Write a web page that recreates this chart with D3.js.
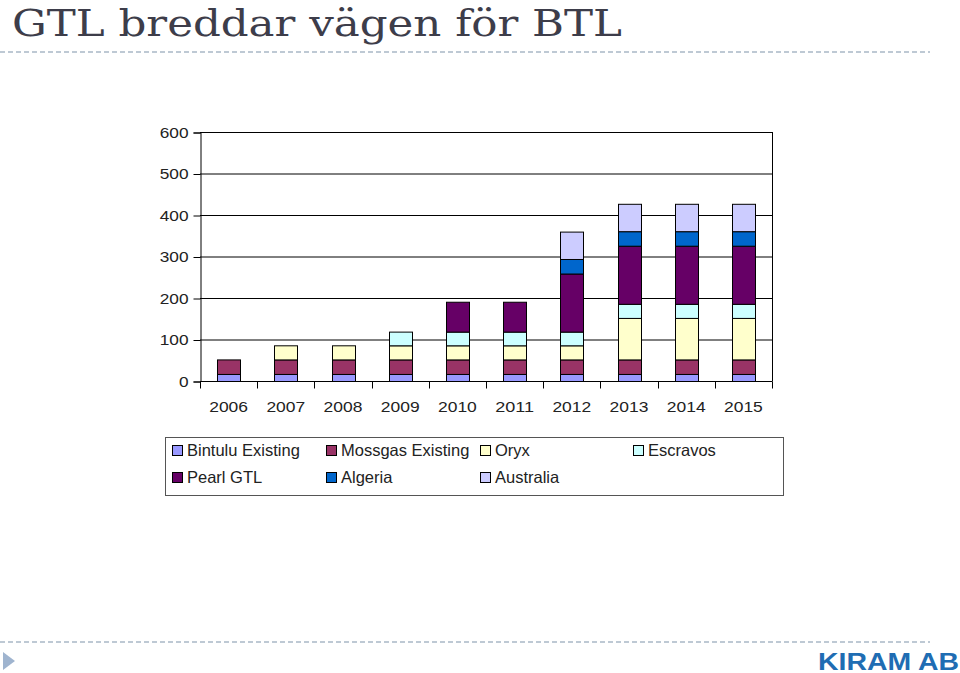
<!DOCTYPE html>
<html>
<head>
<meta charset="utf-8">
<script src="https://cdn.jsdelivr.net/npm/d3@7"></script>
<style>
  html, body { margin: 0; padding: 0; background: #fff; }
  svg { display: block; }
</style>
</head>
<body>
<svg id="chart" width="960" height="673"></svg>
<script>
// ---------- DATA ----------
const years = ["2006","2007","2008","2009","2010","2011","2012","2013","2014","2015"];
const seriesNames = ["Bintulu Existing","Mossgas Existing","Oryx","Escravos","Pearl GTL","Algeria","Australia"];
const bintulu   = [17, 17, 17, 17, 17, 17, 17, 17, 17, 17];
const mossgas   = [35, 35, 35, 35, 35, 35, 35, 35, 35, 35];
const oryx      = [0, 34, 34, 34, 34, 34, 34, 100, 100, 100];
const escravos  = [0, 0, 0, 33, 33, 33, 33, 34, 34, 34];
const pearl     = [0, 0, 0, 0, 72, 72, 140, 140, 140, 140];
const algeria   = [0, 0, 0, 0, 0, 0, 35, 35, 35, 35];
const australia = [0, 0, 0, 0, 0, 0, 66, 66, 66, 66];
const yTicks = [0, 100, 200, 300, 400, 500, 600];
const seriesColors = ["#9999FF","#993366","#FFFFCC","#CCFFFF","#660066","#0066CC","#CCCCFF"];
const titleText = "GTL breddar vägen för BTL";
const footerText = "KIRAM AB";

const seriesValues = [bintulu, mossgas, oryx, escravos, pearl, algeria, australia];
const table = years.map((y, i) => {
  const row = { year: y };
  seriesNames.forEach((s, k) => row[s] = seriesValues[k][i]);
  return row;
});

const svg = d3.select("#chart");

// ---------- TITLE & DECOR ----------
svg.append("text")
  .attr("x", 12).attr("y", 35.5)
  .attr("font-family", "'DejaVu Serif', serif")
  .attr("font-size", 38)
  .attr("fill", "#3d3d4a")
  .attr("textLength", 610)
  .attr("lengthAdjust", "spacingAndGlyphs")
  .text(titleText);

[52, 642].forEach(yy => {
  svg.append("line")
    .attr("x1", 0).attr("x2", 930)
    .attr("y1", yy).attr("y2", yy)
    .attr("stroke", "#a9b8c6")
    .attr("stroke-width", 1.5)
    .attr("stroke-dasharray", "5,3");
});

svg.append("path")
  .attr("d", "M3,652 L15,661 L3,670 Z")
  .attr("fill", "#9fb4cf");

svg.append("text")
  .attr("x", 959).attr("y", 669.5)
  .attr("text-anchor", "end")
  .attr("font-family", "'Liberation Sans', Arial, sans-serif")
  .attr("font-weight", "bold")
  .attr("font-size", 23.5)
  .attr("fill", "#1f6db3")
  .attr("textLength", 141)
  .attr("lengthAdjust", "spacingAndGlyphs")
  .text(footerText);

// ---------- SCALES ----------
const plotL = 200, plotR = 772, plotT = 132, plotB = 381;
const x = d3.scaleBand().domain(years).range([plotL, plotR]).paddingInner(0.6).paddingOuter(0.3);
const y = d3.scaleLinear().domain([0, 600]).range([plotB, plotT]);
const color = d3.scaleOrdinal().domain(seriesNames).range(seriesColors);

// gridlines
svg.append("g").selectAll("line").data(yTicks).join("line")
  .attr("x1", plotL).attr("x2", plotR)
  .attr("y1", d => y(d) + 0.5).attr("y2", d => y(d) + 0.5)
  .attr("stroke", "#000").attr("stroke-width", 1);

// right border
svg.append("line")
  .attr("x1", plotR + 0.5).attr("x2", plotR + 0.5)
  .attr("y1", plotT).attr("y2", plotB)
  .attr("stroke", "#000");

// ---------- BARS ----------
const stack = d3.stack().keys(seriesNames)(table);
svg.append("g").selectAll("g").data(stack).join("g")
  .attr("fill", d => color(d.key))
  .selectAll("rect").data(d => d.filter(p => p[1] - p[0] > 0)).join("rect")
    .attr("x", d => Math.round(x(d.data.year)) + 0.5)
    .attr("y", d => y(d[1]) + 0.5)
    .attr("width", Math.round(x.bandwidth()))
    .attr("height", d => y(d[0]) - y(d[1]))
    .attr("stroke", "#000")
    .attr("stroke-width", 1);

// ---------- AXES ----------
const yAxis = d3.axisLeft(y).tickValues(yTicks).tickSize(7).tickPadding(5);
const gy = svg.append("g").attr("transform", `translate(${plotL + 0.5},0.5)`).call(yAxis);
gy.select(".domain").attr("stroke", "#000");
gy.selectAll(".tick line").attr("stroke", "#000");
gy.selectAll(".tick text")
  .attr("font-family", "'Liberation Sans', Arial, sans-serif")
  .attr("font-size", 14.5)
  .attr("fill", "#222")
  .attr("textLength", d => String(d).length * 9.6)
  .attr("lengthAdjust", "spacingAndGlyphs");

const xAxis = d3.axisBottom(x).tickSize(0).tickPadding(19);
const gx = svg.append("g").attr("transform", `translate(0,${plotB + 0.5})`).call(xAxis);
gx.select(".domain").attr("stroke", "#000").attr("d", `M${plotL},0H${plotR + 0.5}`);
gx.selectAll(".tick text")
  .attr("font-family", "'Liberation Sans', Arial, sans-serif")
  .attr("font-size", 15.5)
  .attr("fill", "#222")
  .attr("textLength", d => d.length * 9.7)
  .attr("lengthAdjust", "spacingAndGlyphs");
// category boundary ticks
const bounds = d3.range(years.length + 1).map(i => plotL + i * x.step());
gx.append("g").selectAll("line").data(bounds).join("line")
  .attr("x1", d => Math.round(d) + 0.5).attr("x2", d => Math.round(d) + 0.5)
  .attr("y1", 0).attr("y2", 7)
  .attr("stroke", "#000");

// ---------- LEGEND ----------
const lg = svg.append("g");
lg.append("rect")
  .attr("x", 165.5).attr("y", 437.5).attr("width", 618).attr("height", 58)
  .attr("fill", "#fff").attr("stroke", "#555").attr("stroke-width", 1);
const colX = [172, 326, 480, 633];
const rowY = [456, 483];
const items = lg.selectAll("g.item").data(seriesNames).join("g")
  .attr("class", "item")
  .attr("transform", (d, i) => `translate(${colX[i % 4]},${rowY[Math.floor(i / 4)]})`);
items.append("rect")
  .attr("x", 0.5).attr("y", -10.5).attr("width", 10).attr("height", 10)
  .attr("fill", d => color(d)).attr("stroke", "#000").attr("stroke-width", 1);
items.append("text")
  .attr("x", 15).attr("y", 0)
  .attr("font-family", "'Liberation Sans', Arial, sans-serif")
  .attr("font-size", 16.5)
  .attr("fill", "#222")
  .text(d => d);
</script>
</body>
</html>
